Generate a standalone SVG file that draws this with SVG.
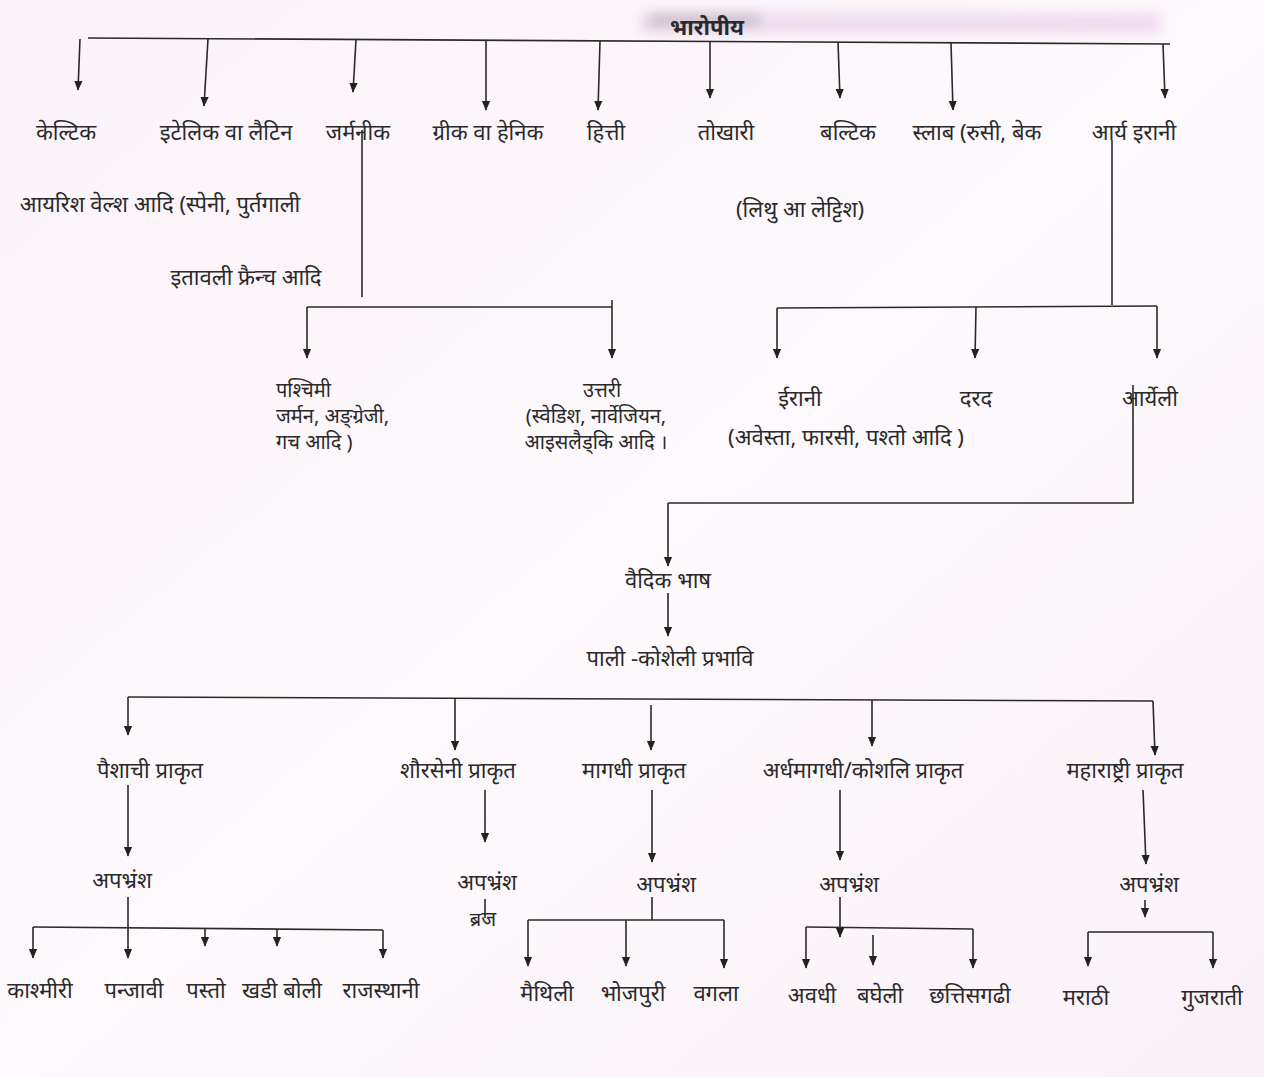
<svg xmlns="http://www.w3.org/2000/svg" width="1264" height="1077" viewBox="0 0 1264 1077">
<defs>
<marker id="a" markerUnits="userSpaceOnUse" markerWidth="10" markerHeight="12" refX="11" refY="5" orient="auto" viewBox="0 0 12 10">
<path d="M0,0 L12,5 L0,10 z" fill="#222"/>
</marker>
<linearGradient id="bg" x1="0" y1="0" x2="1" y2="1">
<stop offset="0" stop-color="#fbf3fa"/>
<stop offset="0.5" stop-color="#fdf9fc"/>
<stop offset="1" stop-color="#faf2f9"/>
</linearGradient>
<filter id="blur" x="-20%" y="-100%" width="140%" height="300%"><feGaussianBlur stdDeviation="6"/></filter>
</defs>
<style>
.t{font-family:"Noto Sans","Lohit Devanagari","Noto Sans Devanagari",sans-serif;font-size:22px;fill:#2a2a2a;text-anchor:middle}
.s{font-size:20px}
.l{text-anchor:start}
.ti{font-weight:bold;font-size:22px}
.c path{stroke:#2a2a2a;stroke-width:1.6;fill:none}
.c .ar{marker-end:url(#a)}
</style>
<rect width="1264" height="1077" fill="url(#bg)"/>
<rect x="640" y="12" width="520" height="22" fill="#e6cde6" opacity="0.6" filter="url(#blur)"/>
<rect x="650" y="14" width="110" height="12" fill="#888" opacity="0.35" filter="url(#blur)"/>

<g class="c" id="connectors">
<path d="M88,38 L1170,44"/>
<path class="ar" d="M80,39 L78,90"/>
<path class="ar" d="M208,39 L204,106"/>
<path class="ar" d="M356,40 L353,92"/>
<path class="ar" d="M486,40 L486,110"/>
<path class="ar" d="M600,41 L598,110"/>
<path class="ar" d="M710,41 L710,98"/>
<path class="ar" d="M838,42 L840,98"/>
<path class="ar" d="M951,43 L953,110"/>
<path class="ar" d="M1163,44 L1165,98"/>
<path d="M362,130 L362,297"/>
<path d="M307,307 L612,307"/>
<path class="ar" d="M307,307 L307,358"/>
<path class="ar" d="M612,300 L612,358"/>
<path d="M1112,140 L1112,305"/>
<path d="M777,308 L1157,306"/>
<path class="ar" d="M777,308 L777,358"/>
<path class="ar" d="M976,307 L975,358"/>
<path class="ar" d="M1157,306 L1157,358"/>
<path d="M1133,385 L1133,503 L668,503"/>
<path class="ar" d="M668,503 L668,566"/>
<path class="ar" d="M668,593 L668,636"/>
<path d="M128,697 L1153,701"/>
<path class="ar" d="M128,697 L128,735"/>
<path class="ar" d="M455,698 L455,750"/>
<path class="ar" d="M651,705 L651,750"/>
<path class="ar" d="M872,700 L872,746"/>
<path class="ar" d="M1153,701 L1155,755"/>
<path class="ar" d="M128,785 L128,856"/>
<path class="ar" d="M485,790 L485,842"/>
<path class="ar" d="M652,790 L652,862"/>
<path class="ar" d="M840,790 L840,860"/>
<path class="ar" d="M1143,790 L1146,864"/>
<path d="M33,927 L383,930"/>
<path class="ar" d="M128,897 L128,958"/>
<path class="ar" d="M33,927 L33,958"/>
<path class="ar" d="M205,928 L205,946"/>
<path class="ar" d="M277,929 L277,946"/>
<path class="ar" d="M383,930 L383,958"/>
<path d="M485,899 L485,918"/>
<path d="M652,897 L652,920"/>
<path d="M528,920 L724,920"/>
<path class="ar" d="M528,920 L528,966"/>
<path class="ar" d="M626,920 L626,966"/>
<path class="ar" d="M724,920 L724,968"/>
<path class="ar" d="M840,897 L840,937"/>
<path d="M806,927 L973,929"/>
<path class="ar" d="M806,927 L806,968"/>
<path class="ar" d="M873,935 L873,965"/>
<path class="ar" d="M973,929 L973,968"/>
<path class="ar" d="M1145,900 L1145,917"/>
<path d="M1088,932 L1213,932"/>
<path class="ar" d="M1088,932 L1088,966"/>
<path class="ar" d="M1213,932 L1213,968"/>
</g>

<g id="n-root"><text class="t ti" x="707" y="35">भारोपीय</text></g>
<g id="n-celtic"><text class="t" x="66" y="140">केल्टिक</text></g>
<g id="n-italic"><text class="t" x="226" y="140">इटेलिक वा लैटिन</text></g>
<g id="n-germanic"><text class="t" x="358" y="140">जर्मनीक</text></g>
<g id="n-greek"><text class="t" x="488" y="140">ग्रीक वा हेनिक</text></g>
<g id="n-hittite"><text class="t" x="606" y="140">हित्ती</text></g>
<g id="n-tocharian"><text class="t" x="726" y="140">तोखारी</text></g>
<g id="n-baltic"><text class="t" x="848" y="140">बल्टिक</text></g>
<g id="n-slav"><text class="t" x="977" y="140">स्लाब (रुसी, बेक</text></g>
<g id="n-aryairani"><text class="t" x="1134" y="140">आर्य इरानी</text></g>
<g id="n-celtic-sub"><text class="t" x="160" y="212">आयरिश वेल्श आदि (स्पेनी, पुर्तगाली</text></g>
<g id="n-italic-sub"><text class="t" x="246" y="285">इतावली फ्रैन्च आदि</text></g>
<g id="n-baltic-sub"><text class="t" x="800" y="217">(लिथु आ लेट्टिश)</text></g>

<g id="n-west"><text class="t s l" x="276" y="397">पश्चिमी</text><text class="t s l" x="276" y="423">जर्मन, अङ्ग्रेजी,</text><text class="t s l" x="276" y="449">गच आदि )</text></g>
<g id="n-north"><text class="t s" x="602" y="397">उत्तरी</text><text class="t s" x="596" y="423">(स्वेडिश, नार्वेजियन,</text><text class="t s" x="596" y="449">आइसलैड्कि आदि ।</text></g>
<g id="n-irani"><text class="t" x="800" y="406">ईरानी</text><text class="t" x="846" y="445">(अवेस्ता, फारसी, पश्तो आदि )</text></g>
<g id="n-darad"><text class="t" x="976" y="406">दरद</text></g>
<g id="n-aryeli"><text class="t" x="1150" y="406">आर्येली</text></g>

<g id="n-vedic"><text class="t" x="668" y="588">वैदिक भाष</text></g>
<g id="n-pali"><text class="t" x="670" y="666">पाली -कोशेली प्रभावि</text></g>

<g id="n-paishachi"><text class="t" x="150" y="778">पैशाची प्राकृत</text></g>
<g id="n-shauraseni"><text class="t" x="458" y="778">शौरसेनी प्राकृत</text></g>
<g id="n-magadhi"><text class="t" x="634" y="778">मागधी प्राकृत</text></g>
<g id="n-ardha"><text class="t" x="863" y="778">अर्धमागधी/कोशलि प्राकृत</text></g>
<g id="n-maharashtri"><text class="t" x="1125" y="778">महाराष्ट्री प्राकृत</text></g>

<g id="n-apa1"><text class="t" x="122" y="888">अपभ्रंश</text></g>
<g id="n-apa2"><text class="t" x="487" y="890">अपभ्रंश</text></g>
<g id="n-braj"><text class="t s" x="483" y="926">ब्रज</text></g>
<g id="n-apa3"><text class="t" x="666" y="892">अपभ्रंश</text></g>
<g id="n-apa4"><text class="t" x="849" y="892">अपभ्रंश</text></g>
<g id="n-apa5"><text class="t" x="1149" y="892">अपभ्रंश</text></g>

<g id="n-kashmiri"><text class="t" x="40" y="998">काश्मीरी</text></g>
<g id="n-panjabi"><text class="t" x="134" y="998">पन्जावी</text></g>
<g id="n-pasto"><text class="t" x="206" y="998">पस्तो</text></g>
<g id="n-khadi"><text class="t" x="282" y="998">खडी बोली</text></g>
<g id="n-rajasthani"><text class="t" x="381" y="998">राजस्थानी</text></g>
<g id="n-maithili"><text class="t" x="547" y="1001">मैथिली</text></g>
<g id="n-bhojpuri"><text class="t" x="633" y="1001">भोजपुरी</text></g>
<g id="n-bangla"><text class="t" x="716" y="1001">वगला</text></g>
<g id="n-awadhi"><text class="t" x="812" y="1003">अवधी</text></g>
<g id="n-bagheli"><text class="t" x="880" y="1003">बघेली</text></g>
<g id="n-chhattisgarhi"><text class="t" x="970" y="1003">छत्तिसगढी</text></g>
<g id="n-marathi"><text class="t" x="1086" y="1005">मराठी</text></g>
<g id="n-gujarati"><text class="t" x="1212" y="1005">गुजराती</text></g>
</svg>
